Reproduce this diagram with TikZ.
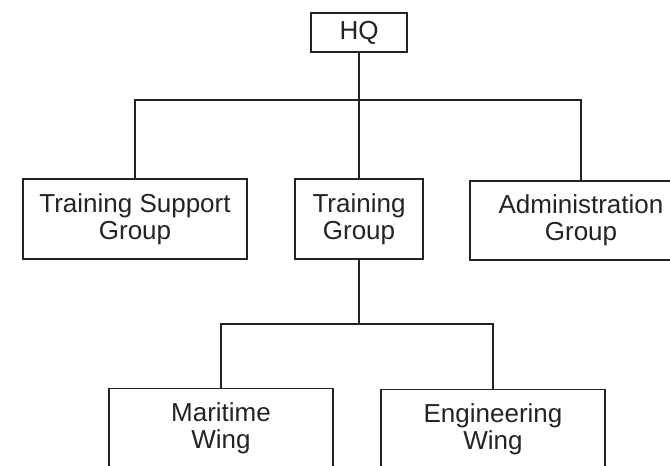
\documentclass[tikz,border=0pt]{standalone}
\usepackage{fontspec}
\setmainfont{Liberation Sans}
\usepackage{tikz}
\usetikzlibrary{calc}
\definecolor{inkgray}{RGB}{35,35,35}

\begin{document}
\begin{tikzpicture}[
      x=1pt, y=-1pt,
      unit/.style={draw=inkgray, line width=1.1pt, align=center, inner sep=0pt,
        text=inkgray, font=\fontsize{26}{27}\selectfont},
      link/.style={draw=inkgray, line width=1.1pt}
    ]
      \useasboundingbox (0,0) rectangle (670,466);
      % top level
      \node[unit, minimum width=96, minimum height=39] (hq) at (359,32.5) {HQ};
      \coordinate (topbus) at (359,100);
      % groups
      \node[unit, minimum width=224, minimum height=80] (tsg) at (135,219) {Training Support\\Group};
      \node[unit, minimum width=128, minimum height=80] (tg) at (359,219) {Training\\Group};
      \node[unit, minimum width=222, minimum height=79] (ag) at (581,220.5) {Administration\\Group};
      % wings, cut by the lower edge
      \coordinate (lowbus) at (359,324);
      \node[unit, minimum width=224, minimum height=80, anchor=north] (mw) at (221,388) {Maritime\\Wing};
      \node[unit, minimum width=224, minimum height=80, anchor=north] (ew) at (493,389) {Engineering\\Wing};
      \draw[link] (hq.south) -- (topbus);
      \draw[link] (tsg.north) |- (topbus) -| (ag.north);
      \draw[link] (topbus) -- (tg.north);
      \draw[link] (tg.south) -- (lowbus);
      \draw[link] (mw.north) |- (lowbus) -| (ew.north);
    \end{tikzpicture}
\end{document}
